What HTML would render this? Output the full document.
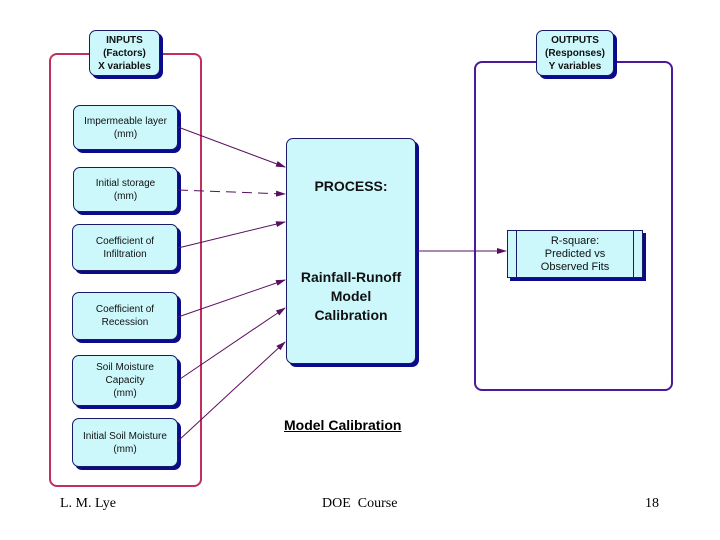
<!DOCTYPE html>
<html><head><style>
body{margin:0;width:720px;height:540px;background:#fff;overflow:hidden;position:relative;font-family:"Liberation Sans",sans-serif}
.b{position:absolute;background:#ccf8fc;border:1px solid #1a1a6a;border-radius:7px;box-shadow:3px 3px 0 #0a0a8a;text-align:center;font-size:10px;color:#111;display:flex;flex-direction:column;justify-content:center;line-height:13px}
.f{position:absolute;border-radius:8px}
.ft{position:absolute;top:496px;font-family:"Liberation Serif",serif;font-size:14px}
</style></head><body>
<div class="f" style="left:49px;top:53px;width:149px;height:430px;border:2px solid #c0305a"></div>
<div class="f" style="left:474px;top:61px;width:195px;height:326px;border:2px solid #4a1a9a"></div>
<div class="b" style="left:89px;top:30px;width:69px;height:44px;font-weight:bold">INPUTS<br>(Factors)<br>X variables</div>
<div class="b" style="left:536px;top:30px;width:76px;height:44px;font-weight:bold">OUTPUTS<br>(Responses)<br>Y variables</div>
<div class="b" style="left:73px;top:105px;width:103px;height:43px">Impermeable layer<br>(mm)</div>
<div class="b" style="left:73px;top:167px;width:103px;height:43px">Initial storage<br>(mm)</div>
<div class="b" style="left:72px;top:224px;width:104px;height:45px">Coefficient of<br>Infiltration</div>
<div class="b" style="left:72px;top:292px;width:104px;height:46px">Coefficient of<br>Recession</div>
<div class="b" style="left:72px;top:355px;width:104px;height:49px">Soil Moisture<br>Capacity<br>(mm)</div>
<div class="b" style="left:72px;top:418px;width:104px;height:47px">Initial Soil Moisture<br>(mm)</div>
<div class="b" style="left:286px;top:138px;width:128px;height:224px;font-weight:bold;font-size:14px;line-height:19px;justify-content:flex-start">
<div style="margin-top:38px">PROCESS:</div><div style="margin-top:72px">Rainfall-Runoff<br>Model<br>Calibration</div></div>
<div class="b" style="left:507px;top:230px;width:134px;height:46px;border-radius:0;font-size:11px">R-square:<br>Predicted vs<br>Observed Fits
<div style="position:absolute;left:8px;top:0;bottom:0;border-left:1px solid #1a1a6a"></div><div style="position:absolute;right:8px;top:0;bottom:0;border-left:1px solid #1a1a6a"></div></div>
<svg style="position:absolute;left:0;top:0" width="720" height="540">
<defs><marker id="a" markerWidth="10" markerHeight="8" refX="9" refY="4" orient="auto" markerUnits="userSpaceOnUse"><path d="M0,1 L10,4 L0,7z" fill="#5a1060"/></marker></defs>
<g stroke="#5a1060" stroke-width="1" fill="none" marker-end="url(#a)">
<line x1="178" y1="127" x2="285" y2="167"/>
<line x1="178" y1="190" x2="285" y2="194" stroke-dasharray="10,6"/>
<line x1="178" y1="248" x2="285" y2="222"/>
<line x1="178" y1="317" x2="285" y2="280"/>
<line x1="180" y1="379" x2="285" y2="308"/>
<line x1="178" y1="441" x2="285" y2="342"/>
<line x1="417" y1="251" x2="506" y2="251"/>
</g></svg>
<div style="position:absolute;left:284px;top:417px;font-weight:bold;font-size:14px;text-decoration:underline">Model Calibration</div>
<div class="ft" style="left:60px">L. M. Lye</div>
<div class="ft" style="left:322px">DOE&nbsp; Course</div>
<div class="ft" style="left:645px">18</div>
</body></html>
